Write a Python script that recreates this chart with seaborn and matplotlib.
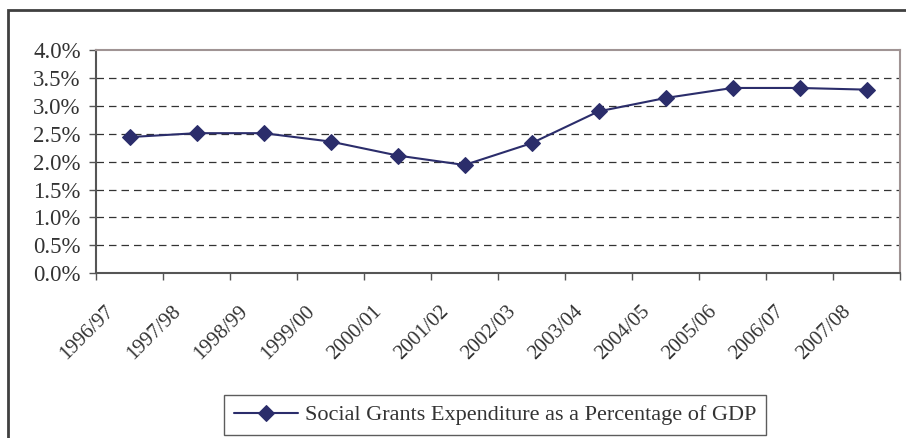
import pandas as pd
import matplotlib
matplotlib.use("Agg")
import matplotlib.pyplot as plt
import matplotlib.patches as patches
import matplotlib.transforms as mtransforms
from matplotlib.ticker import PercentFormatter, FixedLocator
import seaborn as sns

years = ["1996/97", "1997/98", "1998/99", "1999/00", "2000/01", "2001/02",
         "2002/03", "2003/04", "2004/05", "2005/06", "2006/07", "2007/08"]
pct_gdp = [2.44, 2.51, 2.51, 2.36, 2.11, 1.94, 2.33, 2.90, 3.14, 3.32, 3.32, 3.29]
series_name = "Social Grants Expenditure as a Percentage of GDP"

df = pd.DataFrame({"year": years, "pct": pct_gdp})

sns.set_style("white")
plt.rcParams["font.family"] = ["Liberation Serif", "DejaVu Serif"]

fig = plt.figure(figsize=(9.06, 4.38), dpi=100)
ax = fig.add_axes([96 / 906, 1 - 273.3 / 438, 804 / 906, 223.3 / 438])

line_color = "#2b2d6b"
sns.lineplot(data=df, x="year", y="pct", ax=ax, color=line_color,
             marker="D", markersize=8, markeredgecolor=line_color,
             linewidth=1.5, sort=False, label=series_name, legend=False)

ax.set_xlim(-0.5, len(years) - 0.5)
ax.set_ylim(0, 4)
ax.set_yticks([0, 0.5, 1, 1.5, 2, 2.5, 3, 3.5, 4])
ax.yaxis.set_major_formatter(PercentFormatter(decimals=1))

# gridlines
for v in [0.5, 1, 1.5, 2, 2.5, 3, 3.5]:
    ax.axhline(v, color="#333333", linestyle=(0, (6, 4)), linewidth=0.9, zorder=0)

# ticks at category boundaries, labels at centres
ax.xaxis.set_major_locator(FixedLocator([i - 0.5 for i in range(len(years) + 1)]))
ax.xaxis.set_minor_locator(FixedLocator(list(range(len(years)))))
ax.set_xticklabels([])
ax.set_xticklabels(years, minor=True)
ax.tick_params(axis="x", which="major", direction="out", length=5, width=1, color="#555555", bottom=True)
ax.tick_params(axis="x", which="minor", length=0, labelsize=15, bottom=True, colors="#333333")
ax.tick_params(axis="y", direction="out", length=5, width=1, color="#555555", left=True,
               labelsize=16.5, labelcolor="#333333", pad=6)

offset = mtransforms.ScaledTranslation(-18 / 100, -31 / 100, fig.dpi_scale_trans)
for lbl in ax.get_xticklabels(minor=True):
    lbl.set_rotation(45)
    lbl.set_rotation_mode("anchor")
    lbl.set_ha("right")
    lbl.set_va("center")
    lbl.set_transform(lbl.get_transform() + offset)

ax.set_xlabel("")
ax.set_ylabel("")

for side in ["left", "bottom"]:
    ax.spines[side].set_color("#555555")
    ax.spines[side].set_linewidth(1.5)
for side in ["top", "right"]:
    ax.spines[side].set_color("#a09494")
    ax.spines[side].set_linewidth(1.5)

# outer chart frame (cut off at the right and bottom)
frame = patches.Rectangle((8 / 906, -0.1), 1.2, 1 - 10 / 438 + 0.1,
                          transform=fig.transFigure, fill=False,
                          edgecolor="#404040", linewidth=2, clip_on=False)
fig.patches.append(frame)

handles, labels = ax.get_legend_handles_labels()
leg = fig.legend(handles, labels, loc="center",
                 bbox_to_anchor=(495 / 906, 1 - 415 / 438),
                 frameon=True, fancybox=False, fontsize=16,
                 handlelength=2.9, borderpad=0.45, handletextpad=0.3)
leg.get_frame().set_edgecolor("#333333")
leg.get_frame().set_linewidth(1)
for t in leg.get_texts():
    t.set_color("#333333")

fig.savefig("out.png", dpi=100)
